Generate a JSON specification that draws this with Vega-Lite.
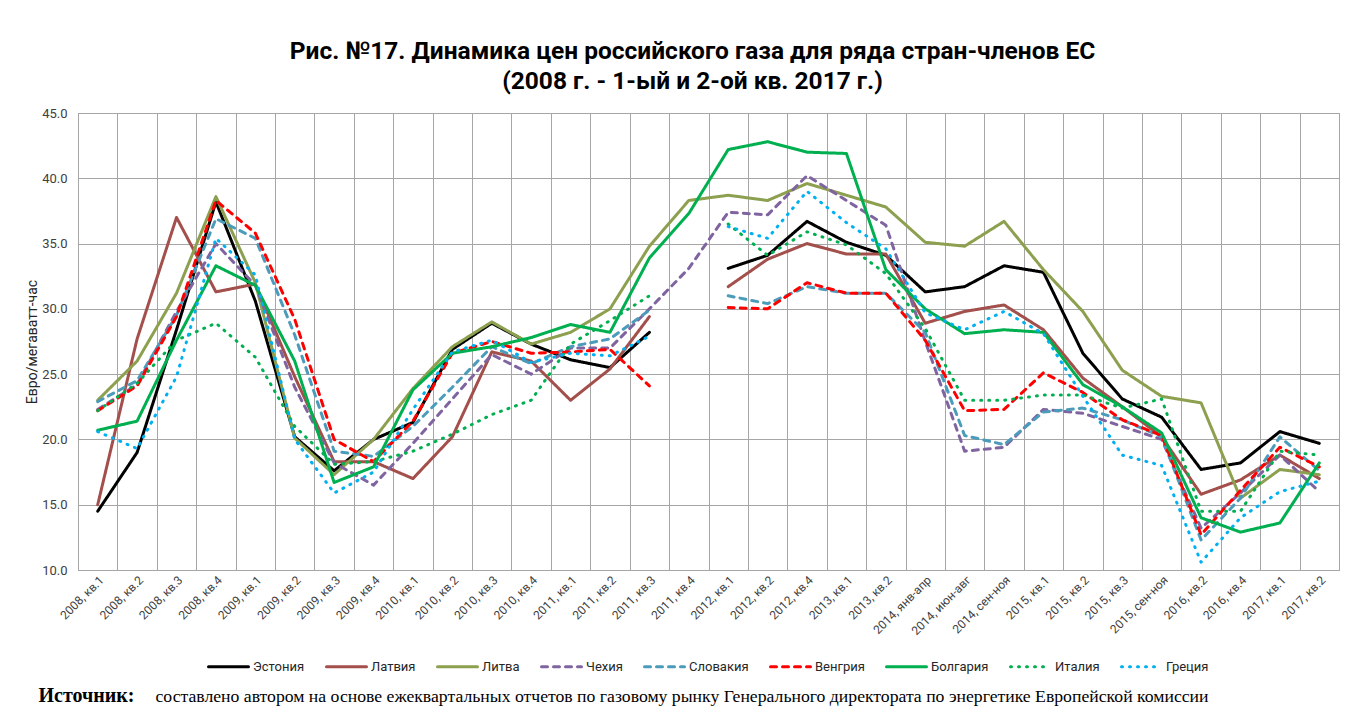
{
 "$schema": "https://vega.github.io/schema/vega-lite/v6.json",
 "width": 1261,
 "height": 457,
 "autosize": {"type": "none"},
 "padding": {"left": 78, "top": 113, "right": 30, "bottom": 140},
 "background": "white",
 "title": {
  "text": ["Рис. №17. Динамика цен российского газа для ряда стран-членов ЕС", "(2008 г. - 1-ый и 2-ой кв. 2017 г.)"],
  "font": "Roboto", "fontSize": 24.5, "fontWeight": "bold", "color": "#000000",
  "anchor": "middle", "frame": "group", "offset": 13, "dx": -16, "lineHeight": 30
 },
 "data": {"values": [
  {"q":"2008, кв.1","Эстония":14.5,"Латвия":15.0,"Литва":23.0,"Чехия":22.3,"Словакия":22.9,"Венгрия":22.2,"Болгария":20.7,"Италия":22.2,"Греция":20.6},
  {"q":"2008, кв.2","Эстония":19.0,"Латвия":27.7,"Литва":26.0,"Чехия":24.2,"Словакия":24.5,"Венгрия":24.1,"Болгария":21.4,"Италия":24.3,"Греция":19.3},
  {"q":"2008, кв.3","Эстония":28.4,"Латвия":37.0,"Литва":31.2,"Чехия":29.8,"Словакия":29.5,"Венгрия":29.4,"Болгария":27.6,"Италия":27.6,"Греция":24.8},
  {"q":"2008, кв.4","Эстония":38.2,"Латвия":31.3,"Литва":38.6,"Чехия":35.0,"Словакия":36.9,"Венгрия":38.3,"Болгария":33.3,"Италия":28.9,"Греция":35.4},
  {"q":"2009, кв.1","Эстония":30.6,"Латвия":31.9,"Литва":32.0,"Чехия":31.8,"Словакия":35.4,"Венгрия":35.8,"Болгария":31.8,"Италия":26.3,"Греция":32.6},
  {"q":"2009, кв.2","Эстония":20.2,"Латвия":24.8,"Литва":20.1,"Чехия":24.0,"Словакия":28.0,"Венгрия":29.2,"Болгария":26.0,"Италия":21.0,"Греция":20.0},
  {"q":"2009, кв.3","Эстония":17.6,"Латвия":18.3,"Литва":17.3,"Чехия":18.2,"Словакия":19.1,"Венгрия":20.0,"Болгария":16.7,"Италия":18.1,"Греция":15.9},
  {"q":"2009, кв.4","Эстония":20.0,"Латвия":18.3,"Литва":20.0,"Чехия":16.5,"Словакия":18.7,"Венгрия":18.3,"Болгария":17.9,"Италия":18.3,"Греция":17.5},
  {"q":"2010, кв.1","Эстония":21.3,"Латвия":17.0,"Литва":23.9,"Чехия":19.7,"Словакия":21.0,"Венгрия":21.4,"Болгария":23.8,"Италия":19.1,"Греция":22.3},
  {"q":"2010, кв.2","Эстония":26.9,"Латвия":20.2,"Литва":27.1,"Чехия":23.1,"Словакия":24.0,"Венгрия":26.6,"Болгария":26.6,"Италия":20.4,"Греция":26.7},
  {"q":"2010, кв.3","Эстония":28.9,"Латвия":26.7,"Литва":29.0,"Чехия":26.5,"Словакия":27.1,"Венгрия":27.5,"Болгария":27.1,"Италия":21.9,"Греция":27.6},
  {"q":"2010, кв.4","Эстония":27.3,"Латвия":26.0,"Литва":27.3,"Чехия":25.0,"Словакия":25.8,"Венгрия":26.6,"Болгария":27.8,"Италия":23.0,"Греция":25.9},
  {"q":"2011, кв.1","Эстония":26.1,"Латвия":23.0,"Литва":28.2,"Чехия":27.0,"Словакия":27.1,"Венгрия":26.7,"Болгария":28.8,"Италия":27.3,"Греция":26.6},
  {"q":"2011, кв.2","Эстония":25.5,"Латвия":25.4,"Литва":30.0,"Чехия":27.0,"Словакия":27.7,"Венгрия":26.9,"Болгария":28.2,"Италия":29.1,"Греция":26.4},
  {"q":"2011, кв.3","Эстония":28.2,"Латвия":29.4,"Литва":34.8,"Чехия":30.0,"Словакия":29.9,"Венгрия":24.1,"Болгария":33.9,"Италия":31.0,"Греция":27.9},
  {"q":"2011, кв.4","Эстония":null,"Латвия":null,"Литва":38.3,"Чехия":33.1,"Словакия":null,"Венгрия":null,"Болгария":37.3,"Италия":null,"Греция":null},
  {"q":"2012, кв.1","Эстония":33.1,"Латвия":31.7,"Литва":38.7,"Чехия":37.4,"Словакия":31.0,"Венгрия":30.1,"Болгария":42.2,"Италия":36.5,"Греция":36.3},
  {"q":"2012, кв.2","Эстония":34.1,"Латвия":33.8,"Литва":38.3,"Чехия":37.2,"Словакия":30.4,"Венгрия":30.0,"Болгария":42.8,"Италия":34.1,"Греция":35.4},
  {"q":"2012, кв.4","Эстония":36.7,"Латвия":35.0,"Литва":39.6,"Чехия":40.2,"Словакия":31.7,"Венгрия":32.0,"Болгария":42.0,"Италия":35.9,"Греция":39.0},
  {"q":"2013, кв.1","Эстония":35.1,"Латвия":34.2,"Литва":38.7,"Чехия":38.3,"Словакия":31.2,"Венгрия":31.2,"Болгария":41.9,"Италия":34.9,"Греция":36.6},
  {"q":"2013, кв.2","Эстония":34.1,"Латвия":34.2,"Литва":37.8,"Чехия":36.4,"Словакия":31.2,"Венгрия":31.2,"Болгария":33.0,"Италия":32.7,"Греция":34.6},
  {"q":"2014, янв-апр","Эстония":31.3,"Латвия":28.9,"Литва":35.1,"Чехия":27.5,"Словакия":28.2,"Венгрия":27.6,"Болгария":30.0,"Италия":28.5,"Греция":29.7},
  {"q":"2014, июн-авг","Эстония":31.7,"Латвия":29.8,"Литва":34.8,"Чехия":19.1,"Словакия":20.3,"Венгрия":22.2,"Болгария":28.1,"Италия":23.0,"Греция":28.4},
  {"q":"2014, сен-ноя","Эстония":33.3,"Латвия":30.3,"Литва":36.7,"Чехия":19.4,"Словакия":19.6,"Венгрия":22.3,"Болгария":28.4,"Италия":23.0,"Греция":29.8},
  {"q":"2015, кв.1","Эстония":32.8,"Латвия":28.4,"Литва":33.0,"Чехия":22.3,"Словакия":22.1,"Венгрия":25.1,"Болгария":28.2,"Италия":23.4,"Греция":28.1},
  {"q":"2015, кв.2","Эстония":26.6,"Латвия":24.7,"Литва":29.8,"Чехия":22.0,"Словакия":22.4,"Венгрия":23.6,"Болгария":24.2,"Италия":23.4,"Греция":23.3},
  {"q":"2015, кв.3","Эстония":23.1,"Латвия":22.5,"Литва":25.3,"Чехия":21.0,"Словакия":21.5,"Венгрия":21.5,"Болгария":22.5,"Италия":22.4,"Греция":18.8},
  {"q":"2015, сен-ноя","Эстония":21.7,"Латвия":20.2,"Литва":23.3,"Чехия":20.0,"Словакия":20.2,"Венгрия":20.3,"Болгария":20.5,"Италия":23.1,"Греция":18.0},
  {"q":"2016, кв.2","Эстония":17.7,"Латвия":15.8,"Литва":22.8,"Чехия":13.2,"Словакия":12.3,"Венгрия":12.7,"Болгария":14.0,"Италия":14.5,"Греция":10.6},
  {"q":"2016, кв.4","Эстония":18.2,"Латвия":16.9,"Литва":15.5,"Чехия":15.9,"Словакия":15.5,"Венгрия":16.1,"Болгария":12.9,"Италия":14.5,"Греция":14.0},
  {"q":"2017, кв.1","Эстония":20.6,"Латвия":18.8,"Литва":17.7,"Чехия":18.8,"Словакия":20.2,"Венгрия":19.4,"Болгария":13.6,"Италия":19.1,"Греция":16.0},
  {"q":"2017, кв.2","Эстония":19.7,"Латвия":17.0,"Литва":17.3,"Чехия":16.0,"Словакия":17.6,"Венгрия":17.9,"Болгария":18.2,"Италия":18.8,"Греция":16.8}
 ]},
 "transform": [
  {"fold": ["Эстония","Латвия","Литва","Чехия","Словакия","Венгрия","Болгария","Италия","Греция"], "as": ["c", "v"]}
 ],
 "encoding": {
  "y": {
   "field": "v", "type": "quantitative",
   "scale": {"domain": [10, 45], "nice": false, "zero": false},
   "axis": {
    "values": [10, 15, 20, 25, 30, 35, 40, 45], "format": ".1f",
    "grid": true, "gridColor": "#A6A6A6", "ticks": false, "domainColor": "#A6A6A6",
    "labelFont": "Roboto", "labelFontSize": 13, "labelColor": "#404040", "labelPadding": 11,
    "title": "Евро/мегаватт-час", "titleFont": "Roboto", "titleFontSize": 14, "titleFontWeight": "normal",
    "titleColor": "#262626", "titlePadding": 2
   }
  },
  "color": {
   "field": "c", "type": "nominal",
   "scale": {
    "domain": ["Эстония","Латвия","Литва","Чехия","Словакия","Венгрия","Болгария","Италия","Греция"],
    "range": ["#000000","#A34F4B","#8DA04F","#7F64A0","#4B9BBB","#FF0000","#00B050","#00B050","#00B0F0"]
   },
   "legend": {
    "title": null, "orient": "none", "legendX": 129, "legendY": 532, "direction": "horizontal", "columns": 9,
    "symbolType": "stroke", "symbolSize": 1600, "symbolStrokeWidth": 3,
    "labelFont": "Roboto", "labelFontSize": 13, "labelColor": "#262626", "labelOffset": 3,
    "columnPadding": 15, "padding": 0,
    "encode": {"symbols": {"update": {"strokeCap": {"value": "round"}}}}
   }
  },
  "strokeDash": {
   "field": "c", "type": "nominal",
   "scale": {
    "domain": ["Эстония","Латвия","Литва","Чехия","Словакия","Венгрия","Болгария","Италия","Греция"],
    "range": [[1,0],[1,0],[1,0],[6,6],[6,6],[6,6],[1,0],[1,7],[1,7]]
   },
   "legend": {
    "title": null, "orient": "none", "legendX": 129, "legendY": 532, "direction": "horizontal", "columns": 9,
    "symbolType": "stroke", "symbolSize": 1600, "symbolStrokeWidth": 3,
    "labelFont": "Roboto", "labelFontSize": 13, "labelColor": "#262626", "labelOffset": 3,
    "columnPadding": 15, "padding": 0,
    "encode": {"symbols": {"update": {"strokeCap": {"value": "round"}}}}
   }
  }
 },
 "layer": [
  {
   "transform": [{"filter": {"field": "c", "oneOf": ["Эстония","Латвия","Литва","Чехия","Словакия","Венгрия"]}}],
   "mark": {"type": "line", "strokeWidth": 3, "strokeCap": "round", "strokeJoin": "round", "invalid": "break-paths-show-domains"},
   "encoding": {
    "x": {
     "field": "q", "type": "ordinal", "bandPosition": 0.5,
     "sort": ["2008, кв.1","2008, кв.2","2008, кв.3","2008, кв.4","2009, кв.1","2009, кв.2","2009, кв.3","2009, кв.4","2010, кв.1","2010, кв.2","2010, кв.3","2010, кв.4","2011, кв.1","2011, кв.2","2011, кв.3","2011, кв.4","2012, кв.1","2012, кв.2","2012, кв.4","2013, кв.1","2013, кв.2","2014, янв-апр","2014, июн-авг","2014, сен-ноя","2015, кв.1","2015, кв.2","2015, кв.3","2015, сен-ноя","2016, кв.2","2016, кв.4","2017, кв.1","2017, кв.2"],
     "scale": {"type": "band", "paddingInner": 0, "paddingOuter": 0},
     "axis": {
      "orient": "bottom", "tickBand": "extent", "grid": true, "gridColor": "#A6A6A6", "ticks": false,
      "domainColor": "#A6A6A6", "labelAngle": -45, "labelFont": "Roboto", "labelFontSize": 12,
      "labelColor": "#404040", "labelPadding": 4,
      "title": "составлено автором на основе ежеквартальных отчетов по газовому рынку Генерального директората по энергетике Европейской комиссии",
      "titleFont": "Liberation Serif", "titleFontSize": 17.7, "titleFontWeight": "normal", "titleColor": "#000000",
      "titleAnchor": "start", "titleAlign": "left", "titleBaseline": "alphabetic", "titleX": 77, "titleY": 131
     }
    }
   }
  },
  {
   "transform": [{"filter": {"field": "c", "oneOf": ["Болгария","Италия","Греция"]}}],
   "mark": {"type": "line", "strokeWidth": 3, "strokeCap": "round", "strokeJoin": "round", "invalid": "break-paths-show-domains"},
   "encoding": {
    "x": {
     "field": "q", "type": "ordinal", "bandPosition": 0.5,
     "sort": ["2008, кв.1","2008, кв.2","2008, кв.3","2008, кв.4","2009, кв.1","2009, кв.2","2009, кв.3","2009, кв.4","2010, кв.1","2010, кв.2","2010, кв.3","2010, кв.4","2011, кв.1","2011, кв.2","2011, кв.3","2011, кв.4","2012, кв.1","2012, кв.2","2012, кв.4","2013, кв.1","2013, кв.2","2014, янв-апр","2014, июн-авг","2014, сен-ноя","2015, кв.1","2015, кв.2","2015, кв.3","2015, сен-ноя","2016, кв.2","2016, кв.4","2017, кв.1","2017, кв.2"],
     "scale": {"type": "band", "paddingInner": 0, "paddingOuter": 0},
     "axis": {
      "orient": "bottom", "grid": false, "ticks": false, "domain": false, "labels": false,
      "title": "Источник:", "titleFont": "Liberation Serif", "titleFontSize": 20, "titleFontWeight": "bold",
      "titleColor": "#000000", "titleAnchor": "start", "titleAlign": "left", "titleBaseline": "alphabetic",
      "titleX": -40, "titleY": 131
     }
    }
   }
  }
 ],
 "resolve": {"axis": {"x": "independent"}},
 "config": {"view": {"stroke": "#A6A6A6"}}
}
